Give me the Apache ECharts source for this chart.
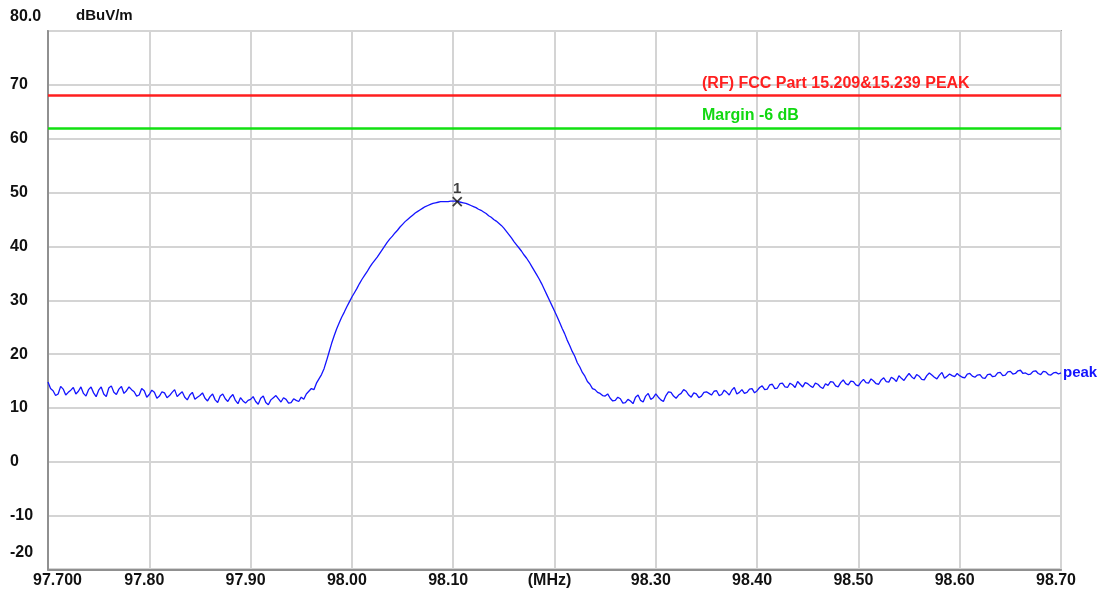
<!DOCTYPE html>
<html>
<head>
<meta charset="utf-8">
<script src="https://cdn.jsdelivr.net/npm/echarts@6/dist/echarts.min.js"></script>
<style>
html,body{margin:0;padding:0;background:#fff;}
#chart{width:1105px;height:590px;}
</style>
</head>
<body>
<div id="chart"></div>
<script>
// ---- data ----
const freqStart = 97.70;
const freqStep = 0.0025;
const traceValues = [
14.8,13.6,13.2,12.3,12.6,14.0,13.5,12.4,12.9,13.3,13.8,12.6,13.1,13.9,12.7,12.2,13.4,13.9,12.8,12.1,
13.3,13.9,12.6,12.1,13.7,14.1,12.9,12.5,13.5,14.0,12.7,13.2,13.9,13.4,13.0,12.2,12.4,13.6,13.2,12.0,
12.5,13.3,12.9,11.8,12.2,13.0,12.8,11.9,12.3,12.9,13.4,12.1,12.6,13.0,12.0,11.5,12.4,12.9,11.6,12.0,
12.3,12.8,11.8,11.3,12.1,12.6,11.5,11.0,12.2,12.6,11.7,11.2,12.0,12.5,11.4,10.8,11.9,11.3,10.9,11.4,
11.6,12.1,11.2,10.7,11.8,12.2,11.0,10.6,11.5,11.9,12.3,11.7,11.1,11.9,11.6,10.9,11.0,11.7,11.4,11.2,
12.0,11.6,12.6,13.1,13.6,13.4,14.6,15.4,16.2,17.3,18.8,20.4,22.0,23.4,24.7,25.8,26.9,27.8,28.8,29.7,
30.6,31.4,32.2,33.1,33.9,34.6,35.3,36.1,36.8,37.4,38.0,38.7,39.4,40.1,40.8,41.4,41.9,42.5,43.0,43.6,
44.1,44.6,45.0,45.4,45.8,46.2,46.5,46.8,47.1,47.4,47.6,47.8,48.0,48.1,48.2,48.3,48.3,48.3,48.3,48.4,
48.4,48.4,48.3,48.2,48.1,48.0,47.8,47.6,47.4,47.2,46.9,46.7,46.4,46.1,45.7,45.4,45.0,44.7,44.3,43.9,
43.4,42.8,42.2,41.6,40.9,40.3,39.7,39.1,38.4,37.8,37.1,36.3,35.5,34.7,33.9,33.0,32.0,31.0,30.0,29.0,
28.0,27.0,25.9,24.8,23.8,22.6,21.6,20.5,19.6,18.4,17.6,16.6,15.9,14.9,14.4,13.6,13.4,12.9,12.7,12.3,
12.2,12.6,11.8,11.3,11.4,12.0,11.7,10.9,11.0,11.6,11.3,10.8,12.0,12.4,11.4,11.1,12.2,12.7,11.6,11.9,
12.6,12.0,11.5,11.2,12.3,13.0,12.9,12.2,11.8,12.4,12.7,13.4,13.1,12.4,12.0,12.8,12.6,11.9,12.2,12.9,
13.0,12.7,12.4,13.1,13.2,12.3,12.5,13.3,12.9,12.4,13.3,13.8,12.6,12.9,13.4,12.7,12.9,13.5,13.6,12.8,
13.2,13.8,14.1,13.4,13.5,14.3,14.4,13.6,13.7,14.5,14.6,13.9,13.8,14.6,14.3,13.8,14.9,14.4,13.9,14.7,
14.5,14.1,13.8,14.6,14.4,13.9,13.6,14.5,14.2,14.9,14.8,14.1,13.9,14.7,15.2,14.5,14.3,15.0,14.9,14.3,
14.1,14.8,15.3,14.7,14.6,15.4,15.0,14.5,14.4,15.2,15.6,14.9,14.8,15.7,15.4,14.9,16.0,15.5,15.1,15.8,
16.4,15.8,15.4,16.2,15.9,15.3,15.2,16.0,16.5,16.1,15.7,15.4,16.1,16.6,15.5,15.9,16.3,16.0,15.8,16.4,
16.0,15.7,15.6,16.3,16.4,15.9,15.7,16.1,16.2,15.6,15.5,16.2,16.3,15.8,15.9,16.5,16.6,16.0,16.1,16.7,
16.8,16.3,16.4,16.9,17.0,16.4,16.5,16.2,16.3,16.8,16.9,16.4,16.2,16.8,16.7,16.2,16.1,16.5,16.6,16.3,
16.5
];
const xTickLabels = ['97.700','97.80','97.90','98.00','98.10','(MHz)','98.30','98.40','98.50','98.60','98.70'];
const yTickLabels = ['-20','-10','0','10','20','30','40','50','60','70','80.0'];
const limitPeak = 68;
const limitPeakLabel = '(RF) FCC Part 15.209&15.239 PEAK';
const marginLine = 62;
const marginLabel = 'Margin -6 dB';
const markerFreq = 98.104;
const markerValue = 48.3;
const markerLabel = '1';
const traceName = 'peak';
const yUnit = 'dBuV/m';

// ---- build ----
const traceData = traceValues.map((v, i) => [+(freqStart + i * freqStep).toFixed(5), v]);
const FONT = '"Liberation Sans", Arial, sans-serif';

const chart = echarts.init(document.getElementById('chart'));
chart.setOption({
  animation: false,
  backgroundColor: '#ffffff',
  title: {
    text: yUnit, left: 71, top: 3,
    textStyle: {fontFamily: FONT, fontSize: 15, fontWeight: 'bold', color: '#111'}
  },
  grid: {left: 48, right: 44, top: 31, bottom: 20.5, show: true, borderColor: '#a8a8a8', borderWidth: 2},
  xAxis: {
    type: 'value', min: 97.7, max: 98.7, interval: 0.1,
    axisLine: {show: true, onZero: false, lineStyle: {color: '#909090', width: 2}},
    axisTick: {show: false},
    splitLine: {show: true, lineStyle: {color: '#d4d4d4', width: 2}},
    axisLabel: {
      margin: 3,
      formatter: (v) => {
        const i = Math.round((v - 97.7) / 0.1);
        return i === 0 ? '{f|' + xTickLabels[i] + '}' : '{n|' + xTickLabels[i] + '}';
      },
      rich: {
        f: {fontFamily: FONT, fontSize: 16, fontWeight: 'bold', color: '#111', padding: [0, 0, 0, 19]},
        n: {fontFamily: FONT, fontSize: 16, fontWeight: 'bold', color: '#111', padding: [0, 10, 0, 0]}
      }
    }
  },
  yAxis: {
    type: 'value', min: -20, max: 80, interval: 10,
    axisLine: {show: true, lineStyle: {color: '#909090', width: 2}},
    axisTick: {show: false},
    splitLine: {show: true, lineStyle: {color: '#d4d4d4', width: 2}},
    axisLabel: {
      margin: 38, align: 'left',
      formatter: (v) => {
        const i = Math.round((v + 20) / 10);
        if (i === 10) return '{t|' + yTickLabels[i] + '}';
        if (i === 0) return '{b|' + yTickLabels[i] + '}';
        return '{n|' + yTickLabels[i] + '}';
      },
      rich: {
        t: {fontFamily: FONT, fontSize: 16, fontWeight: 'bold', color: '#111', padding: [0, 0, 29, 0]},
        b: {fontFamily: FONT, fontSize: 16, fontWeight: 'bold', color: '#111', padding: [0, 0, 34, 0]},
        n: {fontFamily: FONT, fontSize: 16, fontWeight: 'bold', color: '#111'}
      }
    }
  },
  series: [
    {
      type: 'line', name: 'limits', data: [], silent: true,
      markLine: {
        silent: true, symbol: 'none',
        data: [
          {yAxis: limitPeak, lineStyle: {color: '#ff1f1f', width: 2.5, type: 'solid'},
           label: {show: true, position: 'insideStartTop', distance: [654, 4], formatter: limitPeakLabel,
                   color: '#ff1f1f', fontFamily: FONT, fontSize: 16, fontWeight: 'bold'}},
          {yAxis: marginLine, lineStyle: {color: '#12e012', width: 2.5, type: 'solid'},
           label: {show: true, position: 'insideStartTop', distance: [654, 4], formatter: marginLabel,
                   color: '#12d812', fontFamily: FONT, fontSize: 16, fontWeight: 'bold'}}
        ]
      }
    },
    {
      type: 'line', name: traceName, data: traceData, showSymbol: false, symbol: 'none',
      lineStyle: {color: '#1414ff', width: 1.3},
      endLabel: {show: true, formatter: traceName, color: '#1414ff', fontFamily: FONT,
                 fontSize: 15, fontWeight: 'bold', distance: 2},
      z: 3
    },
    {
      type: 'scatter', name: 'marker', data: [[markerFreq, markerValue]],
      symbol: 'path://M0,0L10,10M10,0L0,10', symbolSize: 9,
      itemStyle: {color: 'rgba(0,0,0,0)', borderColor: '#111', borderWidth: 1.8},
      label: {show: true, position: 'top', distance: 0, formatter: markerLabel,
              color: '#111', fontFamily: FONT, fontSize: 15, fontWeight: 'bold'},
      z: 4
    }
  ]
});
</script>
</body>
</html>
